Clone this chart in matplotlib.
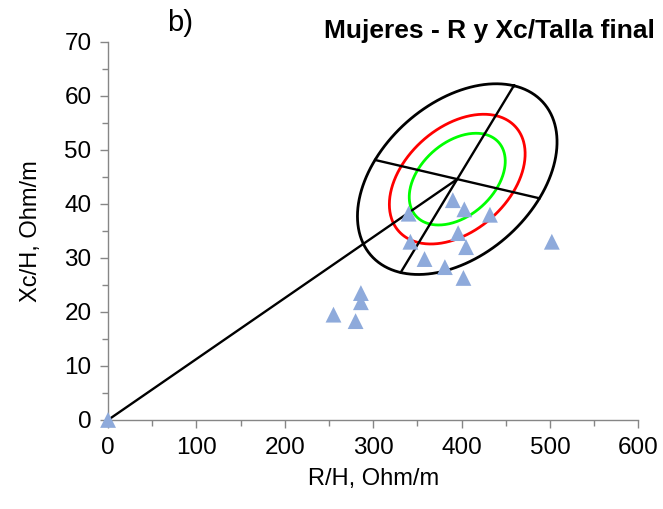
import numpy as np
import matplotlib
matplotlib.use("Agg")
import matplotlib.pyplot as plt
import matplotlib.ticker as ticker

plt.rcParams['font.family'] = ['Liberation Sans', 'DejaVu Sans']

# R/H and Xc/H values (Ohm/m)
rh = [0, 255, 280, 286, 286, 340, 342, 358, 381, 390, 403, 396, 405, 402, 432, 502]
xch = [0, 19.5, 18.3, 23.5, 21.8, 38.2, 33.0, 29.8, 28.3, 40.7, 39.0, 34.6, 32.0, 26.3, 38.0, 33.0]

# mean vector and the two semi-diameters of the 95% ellipse
center = [395, 44.6]
semi_major = [64, 17.3]
semi_minor = [93, -3.55]
levels = [0.95, 0.75, 0.50]
level_colors = ["black", "#ff0000", "#00ff00"]

fig = plt.figure(figsize=(6.63, 5.09), dpi=100)
ax = fig.add_axes([0.163, 0.175, 0.800, 0.7425])

cx, cy = center
ux, uy = semi_major
vx, vy = semi_minor
k95 = np.sqrt(-2 * np.log(1 - 0.95))
t = np.linspace(0, 2 * np.pi, 400)
for p, col in zip(levels, level_colors):
    s = np.sqrt(-2 * np.log(1 - p)) / k95
    ex = cx + s * (ux * np.cos(t) + vx * np.sin(t))
    ey = cy + s * (uy * np.cos(t) + vy * np.sin(t))
    ax.plot(ex, ey, color=col, lw=2.0, zorder=2)

# axes of the 95% ellipse and the line from the origin to the mean
ax.plot([cx - ux, cx + ux], [cy - uy, cy + uy], color="black", lw=1.7, zorder=2)
ax.plot([cx - vx, cx + vx], [cy - vy, cy + vy], color="black", lw=1.7, zorder=2)
ax.plot([0, cx], [0, cy], color="black", lw=1.7, zorder=2)

ax.scatter(rh, xch, marker="^", s=130, color="#8eaadb", edgecolors="none", zorder=3, clip_on=False)

ax.set_xlim(0, 600)
ax.set_ylim(0, 70)
ax.xaxis.set_major_locator(ticker.MultipleLocator(100))
ax.xaxis.set_minor_locator(ticker.MultipleLocator(50))
ax.yaxis.set_major_locator(ticker.MultipleLocator(10))
ax.yaxis.set_minor_locator(ticker.MultipleLocator(5))
for side in ["top", "right"]:
    ax.spines[side].set_visible(False)
for side in ["left", "bottom"]:
    ax.spines[side].set_color("#868686")
    ax.spines[side].set_linewidth(1.0)
ax.tick_params(which="major", direction="out", length=6, width=1.0, color="#868686",
               labelsize=17.5, pad=6)
ax.tick_params(which="minor", direction="out", length=4, width=1.0, color="#868686")

ax.set_xlabel("R/H, Ohm/m", fontsize=17, labelpad=7)
ax.set_ylabel("Xc/H, Ohm/m", fontsize=17, labelpad=16)

fig.text(0.271, 0.955, "b)", fontsize=21, ha="center", va="center")
fig.text(0.988, 0.940, "Mujeres - R y Xc/Talla final", fontsize=19, fontweight="bold",
         ha="right", va="center")

fig.savefig("out.png", dpi=100)
